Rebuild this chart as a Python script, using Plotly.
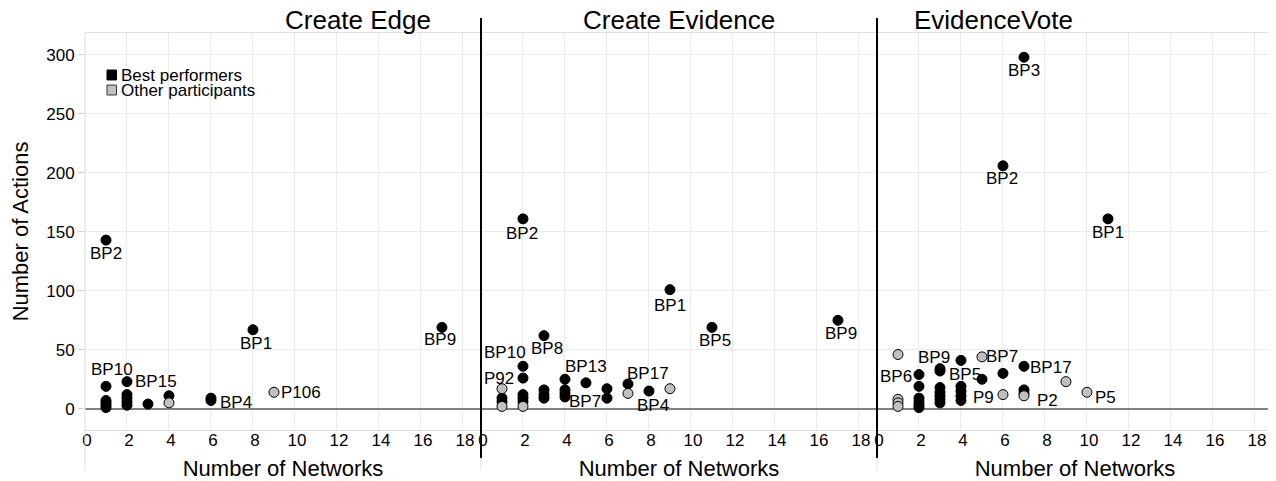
import plotly.graph_objects as go

# ---------------- data ----------------
panel_titles = ["Create Edge", "Create Evidence", "EvidenceVote"]
x_ticks = [0, 2, 4, 6, 8, 10, 12, 14, 16, 18]
y_ticks = [0, 50, 100, 150, 200, 250, 300]
legend_names = ["Best performers", "Other participants"]

# Create Edge
edge_bp_x = [1, 1, 1, 1, 1, 1, 2, 2, 2, 2, 2, 3, 4, 6, 6, 8, 17]
edge_bp_y = [143, 19, 7, 5, 3, 1, 23, 12, 9, 6, 3, 4, 11, 9, 7, 67, 69]
edge_ot_x = [4, 9]
edge_ot_y = [5, 14]

# Create Evidence
evid_bp_x = [1, 1, 2, 2, 2, 2, 2, 2, 3, 3, 3, 3, 4, 4, 4, 4, 5, 6, 6, 7, 8, 9, 11, 17]
evid_bp_y = [9, 6, 161, 36, 26, 12, 9, 6, 62, 16, 12, 9, 25, 16, 13, 10, 22, 17, 9, 21, 15, 101, 69, 75]
evid_ot_x = [1, 1, 2, 7, 9]
evid_ot_y = [17, 2, 2, 13, 17]

# EvidenceVote
vote_bp_x = [2, 2, 2, 2, 2, 2, 3, 3, 3, 3, 3, 3, 3, 4, 4, 4, 4, 4, 5, 6, 6, 7, 7, 7, 7, 11]
vote_bp_y = [29, 19, 9, 6, 3, 1, 34, 32, 18, 14, 11, 8, 5, 41, 19, 15, 11, 7, 25, 206, 30, 298, 36, 16, 13, 161]
vote_ot_x = [1, 1, 1, 1, 5, 6, 7, 9, 10]
vote_ot_y = [46, 8, 5, 2, 44, 12, 11, 23, 14]

# point labels: (panel, text, point x, point y)
point_labels = [
    (0, "BP2", 1, 143), (0, "BP1", 8, 67), (0, "BP9", 17, 69), (0, "BP10", 1, 19),
    (0, "BP15", 2, 23), (0, "BP4", 6, 9), (0, "P106", 9, 14),
    (1, "BP2", 2, 161), (1, "BP1", 9, 101), (1, "BP8", 3, 62), (1, "BP5", 11, 69),
    (1, "BP9", 17, 75), (1, "BP10", 2, 36), (1, "P92", 1, 17), (1, "BP13", 5, 22),
    (1, "BP7", 6, 9), (1, "BP17", 7, 21), (1, "BP4", 8, 15),
    (2, "BP3", 7, 298), (2, "BP2", 6, 206), (2, "BP1", 11, 161), (2, "BP6", 2, 29),
    (2, "BP9", 3, 34), (2, "BP5", 5, 25), (2, "BP7", 5, 44), (2, "BP17", 7, 36),
    (2, "P9", 6, 12), (2, "P2", 7, 11), (2, "P5", 10, 14),
]
# pixel offsets of each label from its point (same order as point_labels)
label_offsets = [
    (0, -13), (3, -14), (-2, -12), (6, 17), (29, 0), (25, -4), (27, 0),
    (-1, -15), (0, -16), (3, -13), (3, -13), (3, -13), (-18, 14), (-3, 10),
    (0, 16), (-22, -3), (20, 11), (4, -14),
    (0, -13), (-1, -13), (0, -14), (-23, -2), (-6, 11), (-17, 5), (20, 0),
    (27, -1), (-19, -3), (24, -5), (19, -5),
]

# ---------------- figure ----------------
FONT = "Liberation Sans, Arial, sans-serif"
BLACK = "#000000"
GRAY = "#c0c0c0"
GRID = "#ebebeb"

panels = [
    (edge_bp_x, edge_bp_y, edge_ot_x, edge_ot_y),
    (evid_bp_x, evid_bp_y, evid_ot_x, evid_ot_y),
    (vote_bp_x, vote_bp_y, vote_ot_x, vote_ot_y),
]

fig = go.Figure()
axn = ["", "2", "3"]
for i, (bx, by, ox, oy) in enumerate(panels):
    xa, ya = "x" + axn[i], "y" + axn[i]
    fig.add_trace(go.Scatter(x=bx, y=by, mode="markers", xaxis=xa, yaxis=ya,
                             name=legend_names[0], showlegend=False, hoverinfo="x+y",
                             marker=dict(size=10, color=BLACK, line=dict(color=BLACK, width=1))))
    fig.add_trace(go.Scatter(x=ox, y=oy, mode="markers", xaxis=xa, yaxis=ya,
                             name=legend_names[1], showlegend=False, hoverinfo="x+y",
                             marker=dict(size=10, color=GRAY, line=dict(color=BLACK, width=1))))

domains = [[0, 1 / 3], [1 / 3, 2 / 3], [2 / 3, 1]]
# the page body has an 8px margin, so the figure is sized to fit the window
layout = dict(
    width=1268, height=473,
    margin=dict(l=77, r=3, t=25, b=51),
    paper_bgcolor="white", plot_bgcolor="white",
    font=dict(family=FONT, size=17, color="black"),
    showlegend=False,
)
for i in range(3):
    xk = "xaxis" + axn[i]
    yk = "yaxis" + axn[i]
    layout[xk] = dict(domain=domains[i], anchor="y" + axn[i], range=[0, 18.86],
                      tickmode="array", tickvals=x_ticks, ticktext=[str(t) for t in x_ticks],
                      showgrid=True, gridcolor=GRID, gridwidth=1, zeroline=False,
                      showline=True, mirror=True, linecolor="#dedede", linewidth=1,
                      ticks="", tickfont=dict(size=17), ticklabelstandoff=-5, ticklabelshift=2,
                      automargin=False,
                      title=dict(text="Number of Networks", font=dict(size=22), standoff=18))
    yd = dict(anchor="x" + axn[i], range=[-18, 318.6], domain=[0, 1],
              tickmode="array", tickvals=y_ticks, automargin=False,
              showgrid=True, gridcolor=GRID, gridwidth=1,
              zeroline=True, zerolinecolor="#808080", zerolinewidth=2,
              showline=False, tickfont=dict(size=17))
    if i == 0:
        yd.update(ticks="outside", ticklen=6, tickcolor="#d0d0d0",
                  title=dict(text="Number of Actions", font=dict(size=22), standoff=12))
    else:
        yd.update(matches="y", showticklabels=False, ticks="")
    layout[yk] = yd
fig.update_layout(**layout)

# panel titles
for i, t in enumerate(panel_titles):
    fig.add_annotation(text=t, xref="paper", yref="paper", x=(domains[i][0] + domains[i][1]) / 2,
                       y=1, yanchor="middle", yshift=13, showarrow=False,
                       font=dict(size=26, family=FONT, color="black"))

# point labels
for (p, txt, px, py), (dx, dy) in zip(point_labels, label_offsets):
    fig.add_annotation(text=txt, x=px, y=py, xref="x" + axn[p], yref="y" + axn[p],
                       xshift=dx, yshift=dy, showarrow=False,
                       font=dict(size=17, family=FONT, color="black"))

# legend (compact, inside first panel)
legend_fill = [BLACK, GRAY]
legend_line = [BLACK, "#333333"]
legend_y = [0.8942, 0.8564]
for name, fc, lc, ly in zip(legend_names, legend_fill, legend_line, legend_y):
    fig.add_shape(type="rect", xref="paper", yref="paper",
                  x0=0.0185, x1=0.0265, y0=ly - 0.0125, y1=ly + 0.0125,
                  fillcolor=fc, line=dict(color=lc, width=1))
    fig.add_annotation(text=name, xref="paper", yref="paper", x=0.0290, y=ly,
                       xanchor="left", yanchor="middle", showarrow=False,
                       font=dict(size=17, family=FONT, color="black"))

# frame lines: light gray panel edges extending below, black separators
for xp in [0, 1 / 3, 2 / 3]:
    fig.add_shape(type="line", xref="paper", yref="paper", x0=xp, x1=xp, y0=-0.1, y1=1,
                  line=dict(color="#dcdcdc", width=1))
for xp in [1 / 3, 2 / 3]:
    fig.add_shape(type="line", xref="paper", yref="paper", x0=xp, x1=xp, y0=-0.0705, y1=1.038,
                  line=dict(color="black", width=2))

fig.write_html("out.html")
